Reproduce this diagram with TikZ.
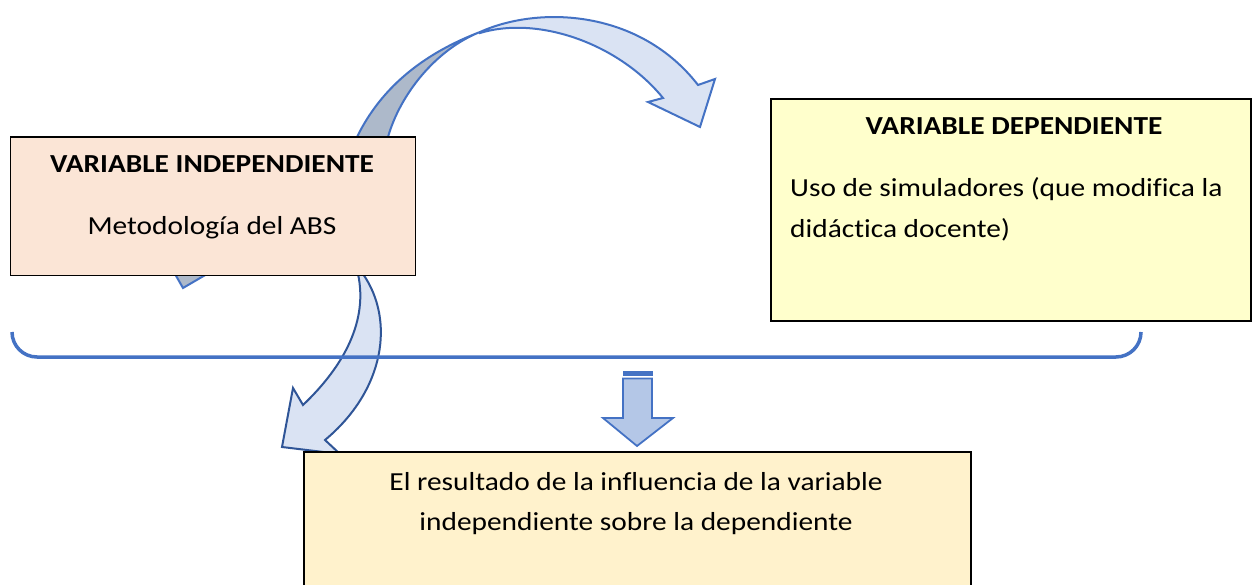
\documentclass[tikz,border=0pt]{standalone}
\usepackage{fontspec}
\setmainfont[FakeStretch=1.13,Ligatures=NoCommon]{Carlito}
\definecolor{peach}{HTML}{FBE5D6}
\definecolor{lyellow}{HTML}{FFFFCC}
\definecolor{cream}{HTML}{FFF2CC}
\definecolor{ablue}{HTML}{4472C4}
\definecolor{dblue}{HTML}{2F5597}
\definecolor{lightfill}{HTML}{DAE3F3}
\definecolor{backfill}{HTML}{ADB9CA}
\definecolor{midfill}{HTML}{B4C7E7}
\tikzset{
  box/.style={draw=black, line width=1.6pt, rectangle, inner sep=0pt, anchor=north west},
  txt/.style={anchor=base, inner sep=0pt, font=\fontsize{26}{31}\selectfont},
  ttl/.style={txt, font=\fontsize{26}{31}\selectfont\bfseries},
  ribbonfront/.style={fill=lightfill, draw=ablue, line width=2pt, line join=miter},
  ribbonback/.style={fill=backfill, draw=ablue, line width=2pt},
  bracketline/.style={draw=ablue, line width=3.5pt},
  downarrow/.style={fill=midfill, draw=ablue, line width=1.8pt, line join=miter}
}
\begin{document}
\begin{tikzpicture}[x=1pt,y=-1pt]
\useasboundingbox (0,0) rectangle (1252,585);
% back face of the top curved arrow
\path[ribbonback] (357,137) .. controls (380,90) and (420,55) .. (480,32)
  .. controls (435,50) and (400,95) .. (388,137) -- (372,150) -- cycle;
\path[ribbonback] (175,274) -- (183,288) -- (207,274) -- cycle;
% bottom curved arrow
\path[fill=lightfill, draw=dblue, line width=2pt, line join=miter]
  (358,274) .. controls (368,320) and (345,365) .. (303,405) -- (293,388) -- (282,447)
  -- (340,454) -- (325,440) .. controls (385,390) and (395,320) .. (363,274) -- cycle;
% bracket
\coordinate (bl) at (12,332);
\coordinate (br) at (1141,332);
\draw[bracketline] (bl) to[out=-90,in=180] (37,357) -- (1116,357) to[out=0,in=-90] (br);
% boxes
\node[box, fill=peach, minimum width=405pt, minimum height=138pt] (indep) at (9.5,136.5) {};
\node[box, fill=lyellow, minimum width=480pt, minimum height=222pt] (dep) at (770,98) {};
\node[box, fill=cream, minimum width=667pt, minimum height=160pt] (res) at (303,451) {};
% top curved arrow front
\path[ribbonfront] (480,32) .. controls (540,5) and (640,10) .. (698,85) -- (715,79) -- (700,127)
  -- (648,102) -- (663,98) .. controls (620,45) and (540,15) .. (480,33) -- cycle;
% down arrow
\path[fill=ablue, draw=ablue, line width=1pt] (623,371) rectangle (652,375.5);
\path[downarrow] (623,378.5) -- (652,378.5) -- (652,418) -- (673,418) -- (637,446) -- (603,418) -- (623,418) -- cycle;
% texts
\node[ttl] (t1) at (212,173) {VARIABLE INDEPENDIENTE};
\node[txt] (t2) at (212,235) {Metodología del ABS};
\node[ttl] (t3) at (1014,135) {VARIABLE DEPENDIENTE};
\node[txt, anchor=base west] (t4) at (790,197) {Uso de simuladores (que modifica la};
\node[txt, anchor=base west] (t5) at (790,238) {didáctica docente)};
\node[txt] (t6) at (636,490) {El resultado de la influencia de la variable};
\node[txt] (t7) at (636,530) {independiente sobre la dependiente};
\end{tikzpicture}
\end{document}
